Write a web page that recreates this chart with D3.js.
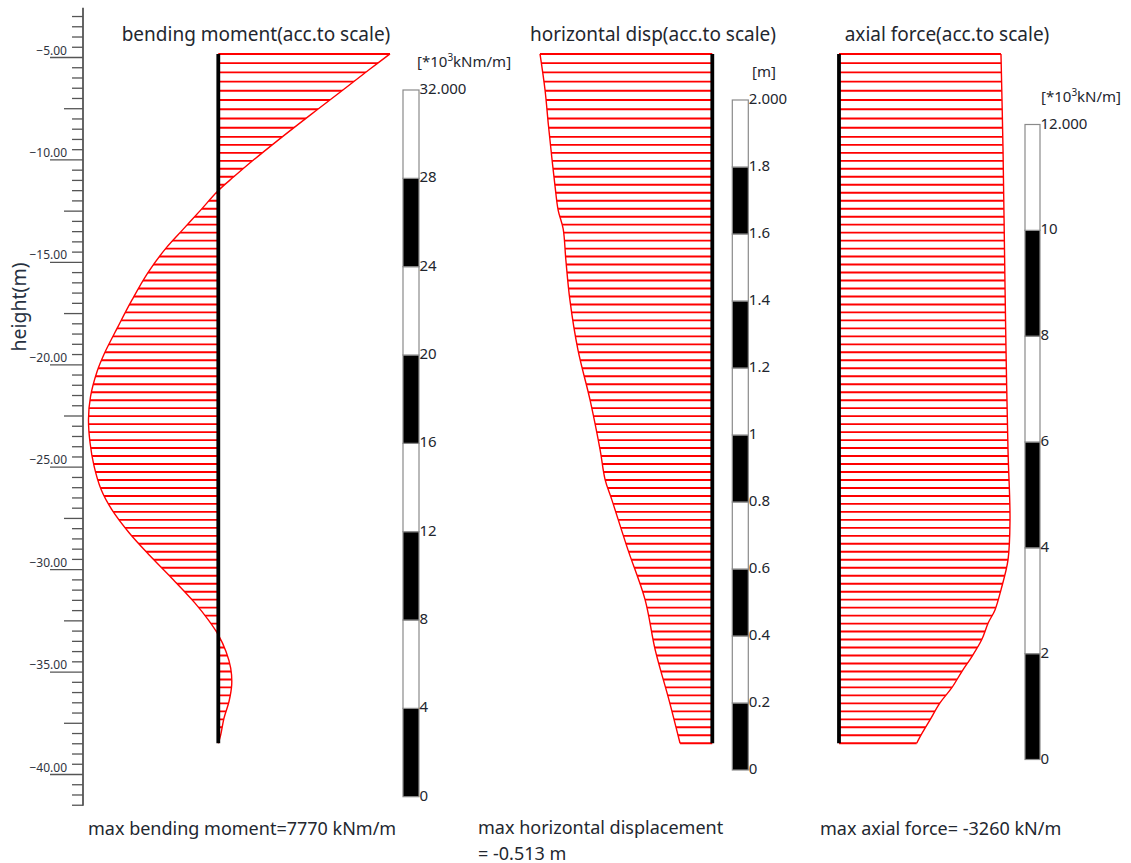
<!DOCTYPE html>
<html>
<head>
<meta charset="utf-8">
<script src="https://cdn.jsdelivr.net/npm/d3@7"></script>
<style>
  body { margin: 0; background: #fff; }
  text { font-family: "Noto Sans", "Open Sans", sans-serif; fill: #23272f; }
</style>
</head>
<body>
<svg id="chart" width="1131" height="863"></svg>
<script>
// ---------- wall geometry (m) ----------
const wallTop = -4.85;
const wallBottom = -38.5;

// ---------- bending moment along the wall (kNm/m) ----------
const momentDepth = [-4.85, -5.6, -6.61, -7.8, -9.08, -10.2, -10.85, -11.52, -12.5, -13.39, -14.34,
  -15.56, -16.86, -18.16, -19.46, -20.36, -21.58, -22.68, -23.82, -24.96, -26.1, -27.11,
  -28.25, -29.35, -30.52, -31.66, -32.48, -33.21, -34.02, -34.83, -35.65, -36.46, -37.27,
  -38.09, -38.5];
const momentValue = [7770, 6850, 5640, 4200, 2680, 1400, 700, 0, -819, -1575, -2376,
  -3204, -3905, -4539, -5150, -5489, -5783, -5874, -5805, -5624, -5308, -4810,
  -4018, -3091, -2036, -1054, -452, 0, 348, 561, 606, 484, 258,
  109, 0];
const momentMax = 7770;

// ---------- horizontal displacement (m) ----------
const dispDepth = [-4.85, -6.61, -8.32, -9.88, -11.34, -12.47, -13.39, -14.91, -16.86, -19.3,
  -21.74, -24.18, -25.64, -26.62, -29.06, -31.5, -33.94, -36.38, -38.5];
const dispValue = [-0.513, -0.498, -0.488, -0.478, -0.468, -0.459, -0.444, -0.436, -0.424, -0.4,
  -0.364, -0.334, -0.319, -0.299, -0.251, -0.2, -0.17, -0.129, -0.096];
const dispMax = -0.513;

// ---------- axial force (kN/m) ----------
const axialDepth = [-4.85, -9.54, -14.42, -19.3, -24.18, -27.6, -29.55, -31.01, -31.99, -32.62,
  -33.45, -34.28, -35.01, -35.8, -36.53, -37.36, -38.19, -38.5];
const axialValue = [-3088, -3127, -3155, -3184, -3222, -3260, -3222, -3088, -2974, -2846,
  -2720, -2530, -2339, -2148, -1925, -1735, -1544, -1481];
const axialMax = -3260;

// ---------- axis and scale-bar ticks ----------
const heightMajorTicks = [-5, -10, -15, -20, -25, -30, -35, -40];
const momentBarTicks = [0, 4, 8, 12, 16, 20, 24, 28, 32];
const momentBarLabels = ["0", "4", "8", "12", "16", "20", "24", "28", "32.000"];
const dispBarTicks = [0, 0.2, 0.4, 0.6, 0.8, 1.0, 1.2, 1.4, 1.6, 1.8, 2.0];
const dispBarLabels = ["0", "0.2", "0.4", "0.6", "0.8", "1", "1.2", "1.4", "1.6", "1.8", "2.000"];
const axialBarTicks = [0, 2, 4, 6, 8, 10, 12];
const axialBarLabels = ["0", "2", "4", "6", "8", "10", "12.000"];

// ---------- drawing ----------
const svg = d3.select("#chart");
const RED = "#ff0000";

const y = d3.scaleLinear().domain([-5, -40]).range([57, 774]);

// height axis: minor ticks every 0.5 m, medium every 2.5 m, long every 5 m
const allTicks = d3.range(-3, -41.51, -0.5);
const axisX = 83;
const axisG = svg.append("g").attr("transform", `translate(${axisX},0)`)
  .call(d3.axisLeft(y).tickValues(allTicks).tickSize(11).tickFormat("").tickSizeOuter(0));
axisG.select(".domain").remove();
axisG.selectAll(".tick line")
  .attr("stroke", "#555")
  .attr("stroke-width", 1.3)
  .attr("x2", d => {
    const k = Math.round(Math.abs(d) * 2);
    return k % 10 === 0 ? -33 : (k % 5 === 0 ? -19 : -11);
  });
svg.append("line")
  .attr("x1", axisX).attr("x2", axisX)
  .attr("y1", y(-2.6)).attr("y2", y(-41.55))
  .attr("stroke", "#555").attr("stroke-width", 1.8);

svg.append("g").selectAll("text").data(heightMajorTicks).join("text")
  .attr("x", 67).attr("y", d => y(d) - 2.5)
  .attr("text-anchor", "end")
  .style("font-size", "12px")
  .style("fill", "#2f3440")
  .text(d => d3.format(".2f")(d));

svg.append("text")
  .attr("transform", `translate(26,${307}) rotate(-90)`)
  .attr("text-anchor", "middle")
  .style("font-size", "19.5px")
  .style("fill", "#263040")
  .text("height(m)");

// one diagram: hatched area between wall and curve
function drawDiagram(depths, values, x, stations) {
  const g = svg.append("g");
  const x0 = x(0);
  const pts = depths.map((d, i) => [x(values[i]), y(d)]);
  const curve = d3.line().curve(d3.curveCatmullRom.alpha(0.5));
  const yt = y(depths[0]), yb = y(depths[depths.length - 1]);
  const outline = curve(pts) + `L${x0},${yb}L${x0},${yt}Z`;

  const id = "clip" + Math.round(x0);
  svg.append("clipPath").attr("id", id).append("path").attr("d", outline);

  // hatching at the wall stations
  g.append("g").attr("clip-path", `url(#${id})`)
    .selectAll("line").data(stations).join("line")
    .attr("x1", x0 - 400).attr("x2", x0 + 400)
    .attr("y1", d => y(d)).attr("y2", d => y(d))
    .attr("stroke", RED).attr("stroke-width", 1.9);

  // closing lines at both ends
  [0, depths.length - 1].forEach(i => {
    if (values[i] === 0) return;
    g.append("line")
      .attr("x1", x0).attr("x2", x(values[i]))
      .attr("y1", y(depths[i])).attr("y2", y(depths[i]))
      .attr("stroke", RED).attr("stroke-width", 1.9);
  });

  g.append("path").attr("d", curve(pts))
    .attr("fill", "none").attr("stroke", RED).attr("stroke-width", 1.4);

  g.append("line")
    .attr("x1", x0).attr("x2", x0)
    .attr("y1", y(wallTop)).attr("y2", y(wallBottom))
    .attr("stroke", "#000").attr("stroke-width", 3.8);
}

// calculation stations along the wall (coarser elements near the top)
const stationSplit = -8.9;
const stations = d3.range(1, 9).map(i => wallTop + (stationSplit - wallTop) * i / 9)
  .concat(d3.range(0, 76).map(i => stationSplit + (wallBottom - stationSplit) * i / 76));

// each diagram is drawn to scale with its maximum spanning the same width
const xMoment = d3.scaleLinear().domain([0, momentMax]).range([218.3, 390]);
const xDisp = d3.scaleLinear().domain([0, dispMax]).range([712.3, 540]);
const xAxial = d3.scaleLinear().domain([0, axialMax]).range([839, 1010]);

drawDiagram(momentDepth, momentValue, xMoment, stations);
drawDiagram(dispDepth, dispValue, xDisp, stations);
drawDiagram(axialDepth, axialValue, xAxial, stations);

// scale bars
function drawBar(ticks, labels, x, w, top, bottom) {
  const s = d3.scaleLinear().domain([ticks[0], ticks[ticks.length - 1]]).range([bottom, top]);
  const g = svg.append("g");
  g.selectAll("rect").data(d3.range(ticks.length - 1)).join("rect")
    .attr("x", x).attr("width", w)
    .attr("y", i => s(ticks[i + 1]))
    .attr("height", i => s(ticks[i]) - s(ticks[i + 1]))
    .attr("fill", i => i % 2 === 0 ? "#000" : "#fff")
    .attr("stroke", "#8a8a8a").attr("stroke-width", 1.2);
  g.selectAll("text").data(ticks).join("text")
    .attr("x", x + w + 0.5).attr("y", d => s(d))
    .attr("dominant-baseline", "middle")
    .style("font-size", "15px")
    .style("fill", "#22262e")
    .text((d, i) => labels[i]);
}
drawBar(momentBarTicks, momentBarLabels, 403, 16, 90, 796.7);
drawBar(dispBarTicks, dispBarLabels, 732.3, 16, 100, 770);
drawBar(axialBarTicks, axialBarLabels, 1025, 15, 124.5, 759.5);

// unit labels
function unitLabel(x, yy, pre, sup, post) {
  const t = svg.append("text").attr("x", x).attr("y", yy).style("font-size", "15px");
  t.append("tspan").text(pre);
  if (sup) {
    t.append("tspan").attr("dy", -6).style("font-size", "10px").text(sup);
    t.append("tspan").attr("dy", 6).text(post);
  }
}
unitLabel(417, 67, "[*10", "3", "kNm/m]");
unitLabel(752, 77, "[m]", null, null);
unitLabel(1041, 102, "[*10", "3", "kN/m]");

// titles
const titles = [
  { x: 256, text: "bending moment(acc.to scale)" },
  { x: 653, text: "horizontal disp(acc.to scale)" },
  { x: 947, text: "axial force(acc.to scale)" }
];
svg.append("g").selectAll("text").data(titles).join("text")
  .attr("x", d => d.x).attr("y", 41)
  .attr("text-anchor", "middle")
  .style("font-size", "19px")
  .text(d => d.text);

// summary lines
const notes = [
  { x: 88, y: 835, text: "max bending moment=7770 kNm/m" },
  { x: 478, y: 834, text: "max horizontal displacement" },
  { x: 478, y: 859.5, text: "= -0.513 m" },
  { x: 820, y: 835, text: "max axial force= -3260 kN/m" }
];
svg.append("g").selectAll("text").data(notes).join("text")
  .attr("x", d => d.x).attr("y", d => d.y)
  .style("font-size", "18px")
  .text(d => d.text);
</script>
</body>
</html>
